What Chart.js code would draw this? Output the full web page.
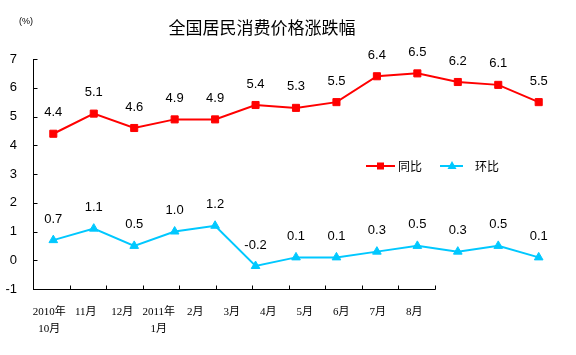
<!DOCTYPE html>
<html>
<head>
<meta charset="utf-8">
<script src="https://cdn.jsdelivr.net/npm/chart.js@4"></script>
<style>
html,body{margin:0;padding:0;background:#fff;}
#wrap{width:576px;height:355px;position:relative;}
</style>
</head>
<body>
<div id="wrap"><canvas id="c" width="576" height="355"></canvas></div>
<script>
// ---- data ----
const categories = [["2010年","10月"],"11月","12月",["2011年","1月"],"2月","3月","4月","5月","6月","7月","8月"];
const spareCategories = ["","",""];
const pointMonths = ["2010-10","2010-11","2010-12","2011-01","2011-02","2011-03","2011-04","2011-05","2011-06","2011-07","2011-08","2011-09","2011-10"];
const yoy = [4.4,5.1,4.6,4.9,4.9,5.4,5.3,5.5,6.4,6.5,6.2,6.1,5.5];
const mom = [0.7,1.1,0.5,1.0,1.2,-0.2,0.1,0.1,0.3,0.5,0.3,0.5,0.1];
const yTicks = [-1,0,1,2,3,4,5,6,7];
const seriesNames = ["同比","环比"];
const titleText = "全国居民消费价格涨跌幅";
const unitText = "(%)";

const RED = '#ff0000';
const CYAN = '#00c8ff';

const toPoints = arr => arr.map((v,i)=>({x:i,y:v}));

const decorPlugin = {
  id:'decor',
  afterDraw(chart){
    const ctx = chart.ctx;
    const xs = chart.scales.x, ys = chart.scales.y;
    const area = chart.chartArea;
    ctx.save();
    ctx.strokeStyle = '#000';
    ctx.lineWidth = 1;
    ctx.beginPath();
    // x axis line (only across the labelled categories)
    const by = Math.round(area.bottom)+0.5;
    const xEnd = Math.round(xs.getPixelForValue(categories.length-0.5))+0.5;
    ctx.moveTo(Math.round(area.left), by);
    ctx.lineTo(xEnd, by);
    // inward tick marks
    yTicks.forEach(v=>{
      const py = Math.round(ys.getPixelForValue(v))+0.5;
      ctx.moveTo(Math.round(area.left)+0.5, py);
      ctx.lineTo(Math.round(area.left)+4.5, py);
    });
    for(let i=1;i<=categories.length;i++){
      const px = Math.round(xs.getPixelForValue(i-0.5))+0.5;
      ctx.moveTo(px, by);
      ctx.lineTo(px, by-4);
    }
    ctx.stroke();
    // title
    ctx.fillStyle = '#000';
    ctx.textAlign = 'center';
    ctx.textBaseline = 'middle';
    ctx.font = "17px 'Noto Sans CJK SC'";
    ctx.fillText(titleText, 262, 28);
    // unit
    ctx.font = "9px 'Liberation Sans'";
    ctx.fillText(unitText, 26, 22);
    // legend
    const ly = 166;
    ctx.lineWidth = 2;
    ctx.strokeStyle = RED;
    ctx.beginPath(); ctx.moveTo(366, ly); ctx.lineTo(395, ly); ctx.stroke();
    ctx.fillStyle = RED;
    ctx.fillRect(377, ly-3.5, 7, 7);
    ctx.strokeStyle = CYAN;
    ctx.beginPath(); ctx.moveTo(440, ly); ctx.lineTo(463, ly); ctx.stroke();
    ctx.fillStyle = CYAN;
    ctx.beginPath(); ctx.moveTo(452, ly-5); ctx.lineTo(456.5, ly+3); ctx.lineTo(447.5, ly+3); ctx.closePath(); ctx.fill();
    ctx.fillStyle = '#000';
    ctx.textAlign = 'left';
    ctx.font = "12px 'Noto Sans CJK SC'";
    ctx.fillText(seriesNames[0], 398, ly);
    ctx.fillText(seriesNames[1], 475, ly);
    ctx.restore();
  },
  afterDatasetsDraw(chart){
    const ctx = chart.ctx;
    ctx.save();
    ctx.fillStyle = '#000';
    ctx.textAlign = 'center';
    ctx.textBaseline = 'middle';
    ctx.font = "13px 'Liberation Sans'";
    chart.data.datasets.forEach((ds, di)=>{
      const meta = chart.getDatasetMeta(di);
      meta.data.forEach((el, i)=>{
        const v = ds.data[i].y;
        ctx.fillText(v.toFixed(1), el.x, el.y - 21);
      });
    });
    ctx.restore();
  }
};

new Chart(document.getElementById('c'), {
  type:'line',
  data:{
    labels: pointMonths,
    datasets:[
      {label:seriesNames[0], data:toPoints(yoy), xAxisID:'x2', yAxisID:'y',
       borderColor:RED, backgroundColor:RED, borderWidth:2,
       pointStyle:'rect', pointRadius:5, pointBorderWidth:1,
       pointBackgroundColor:RED, pointBorderColor:RED, tension:0, clip:false},
      {label:seriesNames[1], data:toPoints(mom), xAxisID:'x2', yAxisID:'y',
       borderColor:CYAN, backgroundColor:CYAN, borderWidth:2,
       pointStyle:'triangle', pointRadius:5, pointBorderWidth:1,
       pointBackgroundColor:CYAN, pointBorderColor:CYAN, tension:0, clip:false}
    ]
  },
  options:{
    responsive:false,
    animation:false,
    events:[],
    layout:{padding:{top:59,right:32,left:0,bottom:0}},
    plugins:{legend:{display:false}, title:{display:false}, tooltip:{enabled:false}},
    scales:{
      x:{type:'category', labels:categories.concat(spareCategories), offset:true, position:'bottom',
         grid:{display:false, drawTicks:false},
         border:{display:false},
         ticks:{padding:14, labelOffset:-2, color:'#000', autoSkip:false, maxRotation:0, minRotation:0,
                font:{family:"'Liberation Serif','Noto Sans CJK SC'", size:11, lineHeight:1.6}},
         afterFit(s){ s.height = 66; }},
      x2:{type:'linear', display:false, min:-0.502, max:12.131},
      y:{type:'linear', min:-1, max:7,
         grid:{display:false, drawTicks:false},
         border:{display:true, color:'#000', width:1},
         ticks:{stepSize:1, padding:16, color:'#000', font:{family:"'Liberation Sans'", size:13}},
         afterFit(s){ s.width = 33; }}
    }
  },
  plugins:[decorPlugin]
});
</script>
</body>
</html>
